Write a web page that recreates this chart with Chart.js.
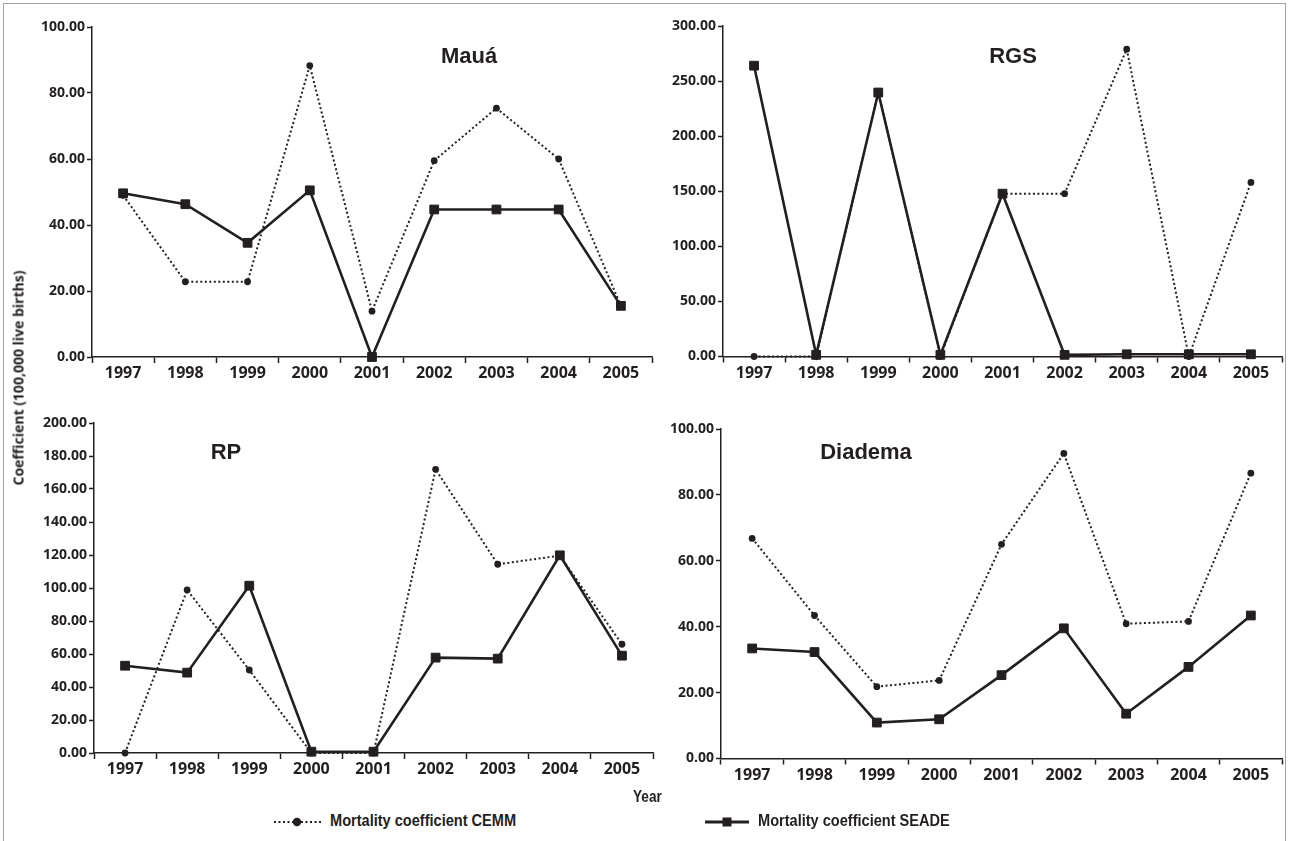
<!DOCTYPE html>
<html>
<head>
<meta charset="utf-8">
<script src="https://cdn.jsdelivr.net/npm/chart.js@4.4.1/dist/chart.umd.min.js"></script>
<style>
  body { margin: 0; background: #fff; }
  #fig { position: relative; width: 1290px; height: 841px; overflow: hidden; background: #fff; }
  #frame { position: absolute; left: 3px; top: 3px; width: 1281px; height: 900px; border: 1.5px solid #a3a3a3; }
  canvas { position: absolute; }
  .ttl { position: absolute; transform: translate(-50%, -50%); white-space: nowrap; color: #231f20;
         font: bold 22px "Liberation Sans", Arial, sans-serif; }
  .lab { position: absolute; white-space: nowrap; color: #231f20; transform-origin: 0 50%;
         font: bold 16px "Liberation Sans", Arial, sans-serif; }
  #ytitle { position: absolute; left: 18px; top: 378px; white-space: nowrap; color: #231f20;
            transform: translate(-50%, -50%) rotate(-90deg);
            font: bold 14px "Open Sans", sans-serif; }
  svg { position: absolute; }
</style>
</head>
<body>
<div id="fig">
  <div id="frame"></div>
  <canvas id="c1"></canvas>
  <canvas id="c2"></canvas>
  <canvas id="c3"></canvas>
  <canvas id="c4"></canvas>

  <div class="ttl" style="left:469px; top:56px;">Mauá</div>
  <div class="ttl" style="left:1013px; top:56px;">RGS</div>
  <div class="ttl" style="left:226px; top:452px;">RP</div>
  <div class="ttl" style="left:866px; top:452px;">Diadema</div>

  <div id="ytitle">Coefficient (100,000 live births)</div>
  <div class="lab" style="left:633px; top:788px; transform: scaleX(0.85);">Year</div>

  <svg style="left:272px; top:815px;" width="52" height="14">
    <line x1="2" y1="7" x2="50" y2="7" stroke="#231f20" stroke-width="2" stroke-dasharray="2,2.5"/>
    <circle cx="25" cy="7" r="4.2" fill="#231f20"/>
  </svg>
  <div class="lab" style="left:330px; top:812px; transform: scaleX(0.91);">Mortality coefficient CEMM</div>

  <svg style="left:704px; top:815px;" width="46" height="14">
    <line x1="1" y1="7" x2="45" y2="7" stroke="#231f20" stroke-width="3"/>
    <rect x="18.5" y="2.5" width="9" height="9" fill="#231f20"/>
  </svg>
  <div class="lab" style="left:758px; top:812px; transform: scaleX(0.91);">Mortality coefficient SEADE</div>
</div>

<script>
const years = ['1997', '1998', '1999', '2000', '2001', '2002', '2003', '2004', '2005'];

// Mauá
const mauaCEMM  = [49.0, 22.8, 22.8, 88.3, 13.9, 59.5, 75.4, 60.0, 15.5];
const mauaSEADE = [49.6, 46.3, 34.6, 50.5, 0.0, 44.7, 44.7, 44.7, 15.5];
// RGS
const rgsCEMM  = [0.0, 0.0, 240.0, 0.0, 147.8, 147.8, 279.0, 0.0, 158.0];
const rgsSEADE = [264.0, 1.5, 239.6, 1.5, 147.8, 1.5, 2.0, 2.0, 2.0];
// RP
const rpCEMM  = [0.0, 98.8, 50.3, 0.0, 0.0, 171.9, 114.4, 119.6, 65.9];
const rpSEADE = [52.9, 48.7, 101.4, 0.8, 0.8, 57.8, 57.2, 119.8, 59.0];
// Diadema
const diaCEMM  = [66.8, 43.4, 21.8, 23.7, 65.0, 92.6, 40.9, 41.6, 86.6];
const diaSEADE = [33.4, 32.3, 10.9, 11.9, 25.3, 39.5, 13.6, 27.8, 43.4];

const ink = '#231f20';
const XH = 40; // height reserved for x axis ticks + labels

function makeChart(id, box, area, yMax, yStep, cemm, seade) {
  const cv = document.getElementById(id);
  cv.width = box.w; cv.height = box.h;
  cv.style.left = box.x + 'px'; cv.style.top = box.y + 'px';
  cv.style.width = box.w + 'px'; cv.style.height = box.h + 'px';

  new Chart(cv, {
    type: 'line',
    data: {
      labels: years,
      datasets: [
        { // SEADE drawn on top (first dataset is drawn last)
          label: 'Mortality coefficient SEADE',
          data: seade,
          borderColor: ink, backgroundColor: ink,
          borderWidth: 2.6,
          pointStyle: 'rect', pointRadius: 6.2, pointBorderWidth: 1,
          tension: 0, clip: false
        },
        {
          label: 'Mortality coefficient CEMM',
          data: cemm,
          borderColor: ink, backgroundColor: ink,
          borderWidth: 2, borderDash: [2, 2.5],
          pointStyle: 'circle', pointRadius: 3.4, pointBorderWidth: 0,
          tension: 0, clip: false
        }
      ]
    },
    options: {
      responsive: false, animation: false, devicePixelRatio: 1,
      layout: { padding: {
        left: 0,
        top: area.top - box.y,
        right: box.x + box.w - area.right,
        bottom: box.y + box.h - area.bottom - XH
      } },
      plugins: { legend: { display: false }, tooltip: { enabled: false } },
      scales: {
        x: {
          offset: true,
          grid: { offset: true, drawOnChartArea: false, tickLength: 6, tickColor: ink, tickWidth: 1.5 },
          border: { color: ink, width: 1.5 },
          ticks: { color: ink, font: { family: 'Open Sans', weight: '700', size: 16 }, padding: 1,
                   maxRotation: 0, autoSkip: false },
          afterFit(s) { s.height = XH; }
        },
        y: {
          min: 0, max: yMax,
          grid: { drawOnChartArea: false, tickLength: 5, tickColor: ink, tickWidth: 1.5 },
          border: { color: ink, width: 1.5 },
          ticks: { stepSize: yStep, color: ink, padding: 2,
                   font: { family: 'Open Sans', weight: '700', size: 14 },
                   callback: v => v.toFixed(2) },
          afterFit(s) { s.width = area.left - box.x; }
        }
      }
    }
  });
}

makeChart('c1', { x: 0, y: 0, w: 670, h: 410 },   { left: 92, right: 652, top: 27, bottom: 357 }, 100, 20, mauaCEMM, mauaSEADE);
makeChart('c2', { x: 640, y: 0, w: 650, h: 410 }, { left: 723, right: 1282, top: 26, bottom: 356.5 }, 300, 50, rgsCEMM, rgsSEADE);
makeChart('c3', { x: 0, y: 390, w: 670, h: 420 }, { left: 94, right: 653, top: 423, bottom: 753 }, 200, 20, rpCEMM, rpSEADE);
makeChart('c4', { x: 640, y: 390, w: 650, h: 420 }, { left: 721, right: 1282, top: 429, bottom: 758.5 }, 100, 20, diaCEMM, diaSEADE);
</script>
</body>
</html>
